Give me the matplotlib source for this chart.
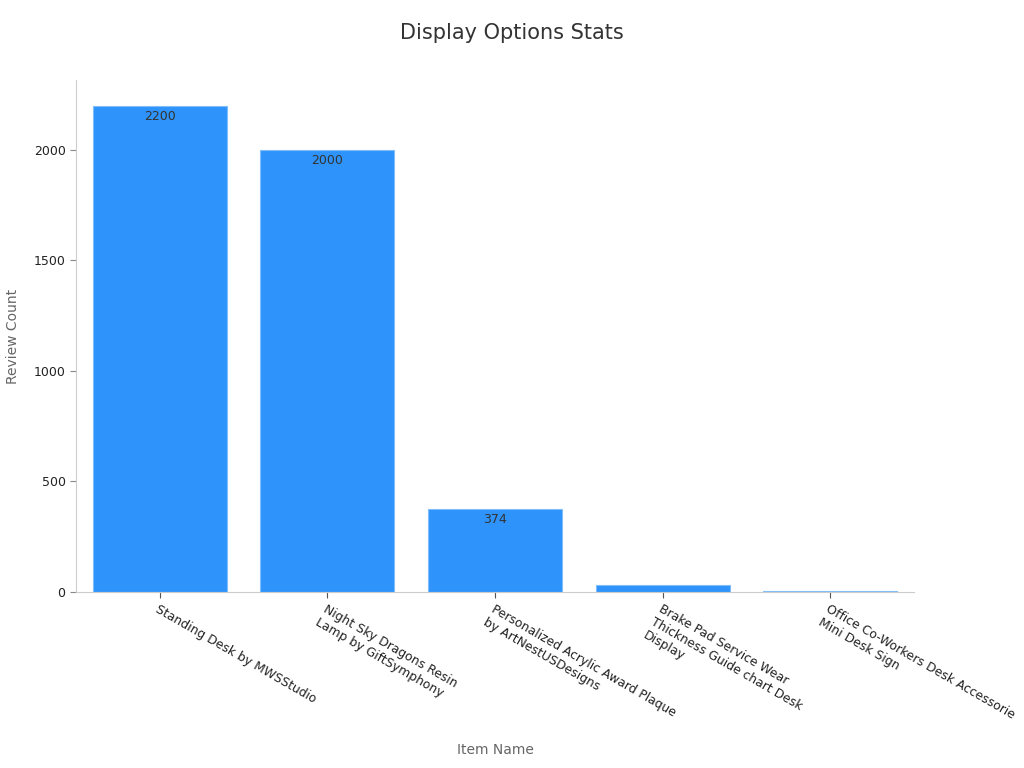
import matplotlib
matplotlib.use("Agg")
import matplotlib.pyplot as plt
import matplotlib.transforms as mtransforms

categories = [
    "Standing Desk by MWSStudio",
    "Night Sky Dragons Resin\nLamp by GiftSymphony",
    "Personalized Acrylic Award Plaque\nby ArtNestUSDesigns",
    "Brake Pad Service Wear\nThickness Guide chart Desk\nDisplay",
    "Office Co-Workers Desk Accessorie\nMini Desk Sign",
]
review_counts = [2200, 2000, 374, 33, 3]
shown_labels = [True, True, True, False, False]

fig = plt.figure(figsize=(10.24, 7.68), dpi=100)
ax = fig.add_axes([76/1024, 1 - 592/768, (914-76)/1024, (592-80)/768])

x = list(range(len(categories)))
bars = ax.bar(x, review_counts, width=0.8, color="#2E93FA", edgecolor="#7FBDFB", linewidth=0.8)

for xi, v, show in zip(x, review_counts, shown_labels):
    if show:
        ax.annotate(str(v), (xi, v), xytext=(0, -3), textcoords="offset points",
                    ha="center", va="top", fontsize=9, color="#333333")

ax.set_xlim(-0.5, 4.5)
ax.set_ylim(0, 2316)
ax.set_yticks([0, 500, 1000, 1500, 2000])
ax.set_xticks(x)
ax.set_xticklabels(categories, rotation=-30, ha="left", va="top",
                   rotation_mode="anchor", fontsize=8.9, color="#222222")
offset = mtransforms.ScaledTranslation(4/100, 0, fig.dpi_scale_trans)
for lbl in ax.get_xticklabels():
    lbl.set_transform(lbl.get_transform() + offset)
ax.tick_params(axis="y", labelsize=9, colors="#222222", length=4, color="#888888")
ax.tick_params(axis="x", length=4, color="#555555")
for s in ["top", "right"]:
    ax.spines[s].set_visible(False)
for s in ["left", "bottom"]:
    ax.spines[s].set_color("#CCCCCC")

fig.text(13/1024, 1 - 336/768, "Review Count", rotation=90, ha="center", va="center",
         fontsize=10, color="#666666")
fig.text(495/1024, 1 - 750/768, "Item Name", ha="center", va="center",
         fontsize=10, color="#666666")
fig.text(0.5, 1 - 33/768, "Display Options Stats", ha="center", va="center",
         fontsize=15, color="#333333")

fig.savefig("out.png", dpi=100)
